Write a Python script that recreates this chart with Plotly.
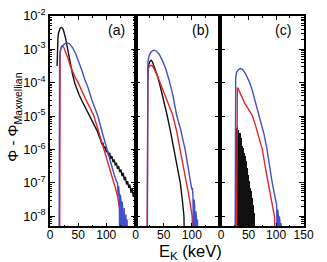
import plotly.graph_objects as go

# ---------------- data (log10 of Phi - Phi_Maxwellian) ----------------
# Panel (a)
a_black_E = [12.5, 13, 14, 15, 16, 18, 20, 22, 24, 26, 28, 30, 33, 36, 40, 44, 48, 52, 56, 61, 66, 72, 78,
             84, 86, 88, 90, 92, 94, 96, 98, 100, 102, 104, 106, 108, 110, 112, 114, 116, 118, 120, 122,
             124, 126, 128, 130, 132, 134, 136, 138, 140, 142, 144, 146, 148, 150, 152]
a_black_log = [-3.5, -3.0, -2.68, -2.52, -2.44, -2.37, -2.35, -2.37, -2.44, -2.55, -2.7, -2.88, -3.15, -3.42,
               -3.75, -4.02, -4.22, -4.38, -4.52, -4.68, -4.85, -5.03, -5.22,
               -5.45, -5.55, -5.62, -5.72, -5.85, -5.8, -5.97, -5.92, -6.08, -6.02, -6.18, -6.1, -6.28, -6.2,
               -6.38, -6.3, -6.48, -6.4, -6.58, -6.5, -6.68, -6.6, -6.8, -6.7, -6.92, -6.82, -7.05, -6.95,
               -7.15, -7.05, -7.3, -7.15, -7.42, -7.3, -7.5]
a_red_E = [17, 17.2, 18, 19.5, 21, 24, 28, 32, 36, 40, 45, 50, 56, 62, 70, 78, 87, 96, 105, 110, 114.5,
           117, 120, 122, 124, 125.5, 126.5]
a_red_log = [-9, -3.6, -3.1, -2.95, -2.9, -2.93, -3.08, -3.28, -3.5, -3.68, -3.85, -4.0, -4.25, -4.45, -4.72,
             -5.0, -5.5, -6.0, -6.5, -6.75, -7.0, -7.2, -7.4, -7.55, -7.8, -7.95, -9]
a_blue_E = [16, 16.2, 17, 19, 22, 26, 30, 34, 40, 46, 52, 57, 62, 67, 75, 85, 93, 101, 110, 114, 118, 120,
            121, 122, 123, 124, 125, 126, 127, 128, 129, 130, 131, 132, 133, 134, 135, 136, 137, 138]
a_blue_log = [-9, -3.5, -3.2, -3.0, -2.9, -2.84, -2.81, -2.83, -2.95, -3.15, -3.4, -3.65, -3.92, -4.12, -4.55,
              -5.0, -5.5, -6.0, -6.5, -6.75, -6.95, -7.0, -7.4, -7.1, -7.3, -9, -7.35, -7.5, -9, -7.55, -7.7,
              -9, -7.8, -7.75, -9, -8.0, -7.95, -9, -8.1, -9]

# Panel (b)
b_black_E = [21.5, 23, 25, 27.7, 30, 34, 38, 43, 49, 56, 62, 68, 74, 79.5, 83, 86, 87]
b_black_log = [-3.9, -3.5, -3.38, -3.33, -3.38, -3.55, -3.75, -4.05, -4.45, -4.97, -5.45, -6.0, -6.5, -7.0,
               -7.5, -8.0, -9]
b_red_E = [20.5, 20.7, 22, 24, 27, 30, 34, 40, 46, 52, 59, 66, 73, 79.5, 85, 91, 96, 100.5, 102]
b_red_log = [-9, -4.0, -3.65, -3.53, -3.48, -3.5, -3.62, -3.85, -4.1, -4.4, -4.7, -4.97, -5.45, -6.0, -6.5,
             -7.0, -7.5, -8.0, -9]
b_blue_E = [21, 21.2, 22, 24, 27, 30, 33, 37, 42, 48, 54, 60, 66, 73, 80, 88, 93, 98, 100, 101, 102, 103,
            104, 105, 106, 107, 108, 109, 110, 111]
b_blue_log = [-9, -3.8, -3.4, -3.2, -3.1, -3.05, -3.03, -3.06, -3.15, -3.35, -3.6, -3.95, -4.35, -4.97, -5.4,
              -6.0, -6.5, -7.0, -7.2, -7.15, -7.4, -9, -7.5, -7.7, -9, -7.85, -8.0, -9, -8.1, -9]

# Panel (c)
c_black_E = list(range(27, 62))
c_black_log = [-5.6, -5.4, -5.35, -5.3, -5.4, -5.45, -5.5, -5.5, -5.6, -5.65, -5.75, -6.4, -5.9, -5.95,
               -6.0, -6.1, -6.2, -6.28, -6.35, -6.45, -6.55, -6.65, -6.75, -6.85, -6.95, -7.05, -7.15,
               -7.25, -7.35, -7.45, -7.55, -7.65, -7.8, -7.9, -8.05]
c_red_E = [28, 28.2, 29.5, 31, 34, 38, 43, 50, 57, 62, 66, 71, 75, 80, 86, 91, 97, 99]
c_red_log = [-9, -4.3, -4.15, -4.18, -4.3, -4.45, -4.62, -4.8, -5.0, -5.25, -5.5, -5.75, -6.0, -6.5, -7.0,
             -7.5, -8.0, -9]
c_blue_E = [25.5, 25.7, 26.5, 28, 31, 35, 39, 44, 48, 52, 57, 63, 69, 78, 83.5, 88, 93, 99, 101, 102, 103,
            104, 105, 106, 107, 108, 109, 110]
c_blue_log = [-9, -4.3, -3.85, -3.7, -3.62, -3.58, -3.6, -3.72, -3.85, -4.0, -4.25, -4.6, -5.0, -5.54, -6.0,
              -6.5, -7.0, -7.5, -7.65, -9, -7.8, -7.95, -9, -8.0, -8.15, -9, -8.2, -9]

panel_labels = ["(a)", "(b)", "(c)"]
x_ranges = [[0, 152], [0, 150], [-2, 150]]
x_ticks = [[0, 50, 100], [0, 50, 100], [0, 50, 100, 150]]
y_exponents = [-2, -3, -4, -5, -6, -7, -8]
y_ticktext = ["10<sup>%d</sup>" % e for e in y_exponents]

BLACK = "#111111"
RED = "#e2262c"
BLUE = "#4150c8"


def vals(logs):
    return [10 ** v for v in logs]


fig = go.Figure()

panels = [
    (a_black_E, a_black_log, a_red_E, a_red_log, a_blue_E, a_blue_log, False),
    (b_black_E, b_black_log, b_red_E, b_red_log, b_blue_E, b_blue_log, False),
    (c_black_E, c_black_log, c_red_E, c_red_log, c_blue_E, c_blue_log, True),
]

for i, (kE, kL, rE, rL, bE, bL, black_bars) in enumerate(panels):
    xa = "x" if i == 0 else f"x{i+1}"
    ya = "y" if i == 0 else f"y{i+1}"
    if black_bars:
        fig.add_trace(go.Bar(x=kE, y=vals(kL), xaxis=xa, yaxis=ya, marker_color=BLACK,
                             marker_line_width=0, width=1.05, showlegend=False, hoverinfo="skip"))
    else:
        fig.add_trace(go.Scatter(x=kE, y=vals(kL), xaxis=xa, yaxis=ya, mode="lines",
                                 line=dict(color=BLACK, width=1.4), showlegend=False, hoverinfo="skip"))
    fig.add_trace(go.Scatter(x=rE, y=vals(rL), xaxis=xa, yaxis=ya, mode="lines",
                             line=dict(color=RED, width=1.4), showlegend=False, hoverinfo="skip"))
    fig.add_trace(go.Scatter(x=bE, y=vals(bL), xaxis=xa, yaxis=ya, mode="lines",
                             line=dict(color=BLUE, width=1.4), showlegend=False, hoverinfo="skip"))

W, H = 327, 262
x_domains = [[49 / W, 138 / W], [138 / W, 226 / W], [226 / W, 313 / W]]
y_domain = [1 - 225 / H, 1 - 7 / H]
FONT = "Liberation Sans, Arial, sans-serif"

layout = dict(
    width=W, height=H, margin=dict(l=0, r=0, t=0, b=0),
    plot_bgcolor="white", paper_bgcolor="white",
    font=dict(family=FONT, color="black", size=12),
    bargap=0,
)
for i in range(3):
    xk = "xaxis" if i == 0 else f"xaxis{i+1}"
    yk = "yaxis" if i == 0 else f"yaxis{i+1}"
    ya = "y" if i == 0 else f"y{i+1}"
    xa = "x" if i == 0 else f"x{i+1}"
    layout[xk] = dict(
        domain=x_domains[i], anchor=ya, range=x_ranges[i],
        tickmode="array", tickvals=x_ticks[i], ticktext=[str(t) for t in x_ticks[i]],
        ticks="inside", ticklen=4, tickwidth=1, tickcolor="black",
        minor=dict(ticks="inside", ticklen=2, dtick=25, tickcolor="black"),
        showline=True, linecolor="black", linewidth=1.5, mirror="ticks",
        showgrid=False, zeroline=False, tickfont=dict(size=12),
        ticklabeloverflow="allow", ticklabelstandoff=-3,
    )
    layout[yk] = dict(
        domain=y_domain, anchor=xa, type="log", range=[-8.3, -1.999],
        tickmode="array", tickvals=[10 ** e for e in y_exponents], ticktext=y_ticktext,
        ticks="inside", ticklen=5, tickwidth=1, tickcolor="black",
        minor=dict(ticks="inside", ticklen=2.5, tickmode="linear", dtick="D1", tickcolor="black"),
        showline=True, linecolor="black", linewidth=1.5, mirror="ticks",
        showgrid=False, zeroline=False, showticklabels=(i == 0), tickfont=dict(size=13),
        ticklabeloverflow="allow",
    )

fig.update_layout(**layout)

ann = []
label_x = [118.5, 206, 292]
for i in range(3):
    ann.append(dict(text=panel_labels[i], x=label_x[i] / W, y=1 - 22 / H, xref="paper", yref="paper",
                    showarrow=False, font=dict(size=14), xanchor="center", yanchor="middle"))
ann.append(dict(text="E<sub>K</sub> (keV)", x=195 / W, y=1 - 252 / H, xref="paper", yref="paper",
                showarrow=False, font=dict(size=16.5), xanchor="center", yanchor="middle"))
ann.append(dict(text="Φ - Φ<sub>Maxwellian</sub>", x=11 / W, y=1 - 112 / H, xref="paper", yref="paper",
                showarrow=False, font=dict(size=15), textangle=-90, xanchor="center", yanchor="middle"))
fig.update_layout(annotations=ann)

fig.write_html("out.html", config={"displayModeBar": False},
               post_script="document.body.style.margin='0';document.body.style.overflow='hidden';")
